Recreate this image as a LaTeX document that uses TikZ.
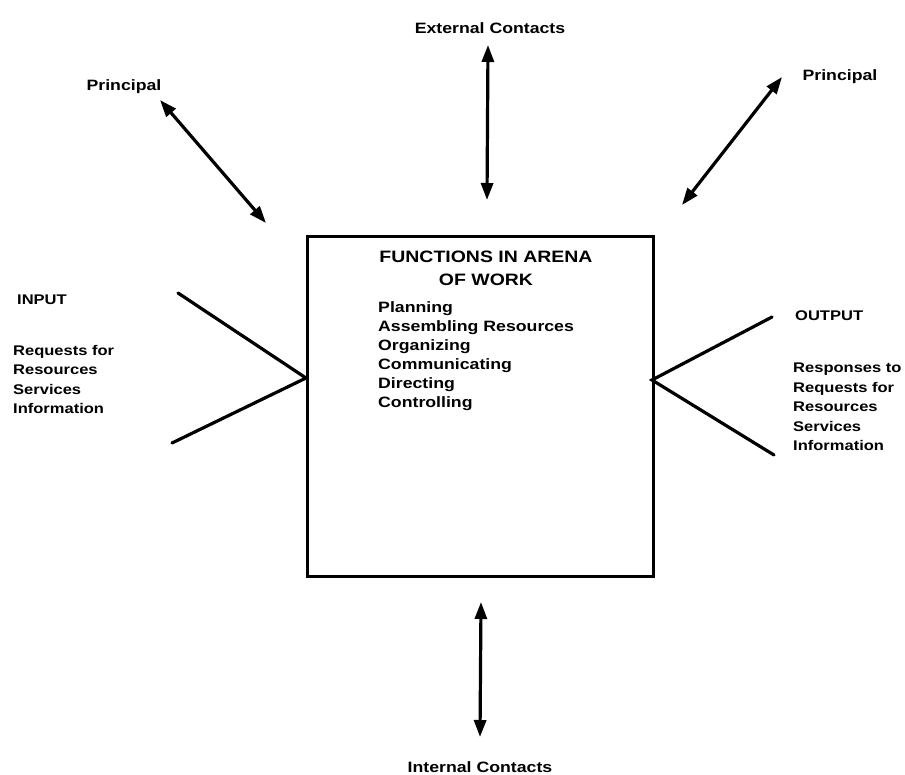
\documentclass[tikz,border=0pt]{standalone}
\usepackage{fontspec}
\setmainfont{Liberation Sans}[FakeStretch=1.18]
\usetikzlibrary{arrows.meta}
\tikzset{
  lbl/.style={font=\bfseries\fontsize{15}{18.5}\selectfont, inner sep=0pt, align=left},
  side/.style={lbl, font=\bfseries\fontsize{14}{19.5}\selectfont},
  dbl/.style={line width=3.2pt, {Triangle[length=17pt,width=12pt]}-{Triangle[length=17pt,width=12pt]}},
  plain/.style={line width=3.2pt, line cap=round},
  boxstyle/.style={draw, line width=3pt, minimum width=346pt, minimum height=340pt, inner sep=0pt, anchor=north west}
}
\begin{document}
\begin{tikzpicture}[x=1pt,y=-1pt]
\useasboundingbox (0,0) rectangle (905,774);
% central box
\node[boxstyle] (box) at (306,235) {};
\node[lbl, align=center, font=\bfseries\fontsize{16.5}{23}\selectfont, anchor=north] (title) at (486,251) {FUNCTIONS IN ARENA\\OF WORK};
\node[lbl, font=\bfseries\fontsize{15}{19}\selectfont, anchor=north west] (funcs) at (378,301) {Planning\\Assembling Resources\\Organizing\\Communicating\\Directing\\Controlling};
% external contacts
\node[lbl] (ext) at (490,28) {External Contacts};
\coordinate (extA) at (488,45);
\coordinate (extB) at (487,200);
\draw[dbl] (extA) -- (extB);
% internal contacts
\node[lbl] (int) at (480,767) {Internal Contacts};
\coordinate (intA) at (481,602);
\coordinate (intB) at (480,737);
\draw[dbl] (intA) -- (intB);
% principal left
\node[lbl] (pl) at (124,87) {Principal};
\coordinate (plA) at (160,100);
\coordinate (plB) at (266,223);
\draw[dbl] (plA) -- (plB);
% principal right
\node[lbl] (pr) at (840,77) {Principal};
\coordinate (prA) at (782,77);
\coordinate (prB) at (682,205);
\draw[dbl] (prA) -- (prB);
% input
\coordinate (jl) at (306,378);
\coordinate (inU) at (178,293);
\coordinate (inD) at (172,443);
\draw[plain] (inU) -- (jl) -- (inD);
\node[side, anchor=west] (inp) at (17,300) {INPUT};
\node[side, anchor=north west] (intext) at (13,345) {Requests for\\Resources\\Services\\Information};
% output
\coordinate (jr) at (652,380);
\coordinate (outU) at (772,317);
\coordinate (outD) at (774,455);
\draw[plain] (outU) -- (jr) -- (outD);
\node[side, anchor=west] (outp) at (795,316) {OUTPUT};
\node[side, anchor=north west] (outtext) at (793,363) {Responses to\\Requests for\\Resources\\Services\\Information};
\end{tikzpicture}
\end{document}
